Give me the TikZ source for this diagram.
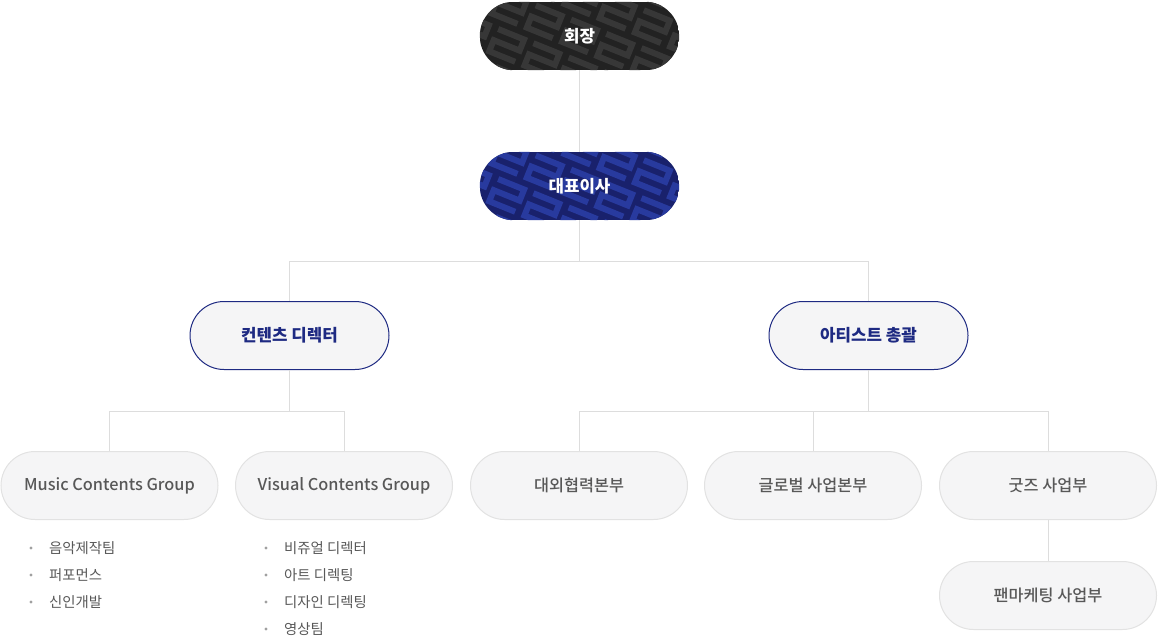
\documentclass[tikz,border=0pt]{standalone}
\usepackage{fontspec}
\setmainfont{Noto Sans CJK KR}
\newfontfamily\medfont{Noto Sans CJK KR Medium}
\usetikzlibrary{backgrounds}

\definecolor{linegray}{HTML}{DDDDDD}
\definecolor{boxfill}{HTML}{F5F5F6}
\definecolor{boxline}{HTML}{E2E2E2}
\definecolor{navy}{HTML}{1E2A82}
\definecolor{chairfill}{HTML}{222222}
\definecolor{chairmark}{HTML}{373737}
\definecolor{ceofill}{HTML}{19216C}
\definecolor{ceomark}{HTML}{283A9E}
\definecolor{txtgray}{HTML}{585858}
\definecolor{dotgray}{HTML}{A0A0A0}

% dark pill with the tiled letter marks behind a node
\newcommand{\pillmarks}[3]{%
  \begin{scope}[on background layer]
  \begin{scope}
    \path[clip, rounded corners=34pt] (#1.south west) rectangle (#1.north east);
    \fill[#2] (#1.south west) rectangle (#1.north east);
    \begin{scope}[shift={(#1.center)}, rotate=-22]
      \foreach \i in {-4,...,4}
        \foreach \j in {-3,...,3}
          \draw[#3, line width=6pt, shift={(\i*38+\j*12,\j*36)}]
            (-14,-12) -- (14,-12) -- (14,0) -- (-14,0) -- (-14,12) -- (14,12);
    \end{scope}
  \end{scope}
  \end{scope}}

\begin{document}
\begin{tikzpicture}[x=1pt,y=-1pt,
  conn/.style={draw=linegray, line width=1pt},
  pill/.style={rectangle, rounded corners=34pt, minimum width=199pt, minimum height=68pt, inner sep=0pt},
  topbox/.style={pill, text=white, font=\bfseries\fontsize{16.8}{20}\selectfont},
  headbox/.style={pill, fill=boxfill, draw=navy, line width=1pt, text=navy, font=\bfseries\fontsize{16.8}{20}\selectfont},
  groupbox/.style={pill, minimum width=217pt, fill=boxfill, draw=boxline, line width=1pt, text=txtgray, font=\medfont\fontsize{16.3}{20}\selectfont},
  item/.style={anchor=west, inner sep=0pt, text=txtgray, font=\fontsize{14.4}{17}\selectfont}]

\useasboundingbox (0,0) rectangle (1158,636);

\node[topbox] (CHAIR) at (579.5,36) {회장};
\node[topbox] (CEO) at (579.5,186) {대표이사};
\pillmarks{CHAIR}{chairfill}{chairmark}
\pillmarks{CEO}{ceofill}{ceomark}

\node[headbox] (CD) at (289.5,335.5) {컨텐츠 디렉터};
\node[headbox] (AD) at (868.5,335.5) {아티스트 총괄};

\node[groupbox] (MUS) at (109.5,485.5) {Music Contents Group};
\node[groupbox] (VIS) at (344,485.5) {Visual Contents Group};
\node[groupbox] (EXT) at (579,485.5) {대외협력본부};
\node[groupbox] (GLB) at (813,485.5) {글로벌 사업본부};
\node[groupbox] (GDS) at (1048,485.5) {굿즈 사업부};
\node[groupbox] (FAN) at (1048,595.5) {팬마케팅 사업부};

\coordinate (J1) at (579.5,261);
\coordinate (J2) at (289.5,411);
\coordinate (J3) at (868.5,411);

% connectors
\draw[conn] (CHAIR) -- (CEO);
\draw[conn] (CEO) -- (J1);
\draw[conn] (J1) -| (CD);
\draw[conn] (J1) -| (AD);
\draw[conn] (CD) -- (J2);
\draw[conn] (J2) -| (MUS);
\draw[conn] (J2) -| (VIS);
\draw[conn] (AD) -- (J3);
\draw[conn] (J3) -| (EXT);
\draw[conn] (J3) -| (GLB);
\draw[conn] (J3) -| (GDS);
\draw[conn] (GDS) -- (FAN);

% team lists
\foreach \t [count=\i] in {음악제작팀, 퍼포먼스, 신인개발} {
  \fill[dotgray] (31,521+27*\i) circle (1.7pt);
  \node[item] (m\i) at (49,521+27*\i) {\t};
}
\foreach \t [count=\i] in {비쥬얼 디렉터, 아트 디렉팅, 디자인 디렉팅, 영상팀} {
  \fill[dotgray] (266,521+27*\i) circle (1.7pt);
  \node[item] (v\i) at (284,521+27*\i) {\t};
}

\end{tikzpicture}
\end{document}
